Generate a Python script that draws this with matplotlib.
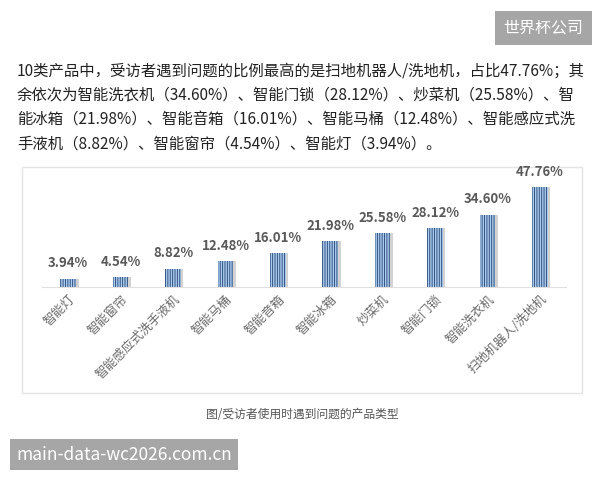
import matplotlib
matplotlib.use("Agg")
import matplotlib.pyplot as plt
from matplotlib.patches import Rectangle
import numpy as np

plt.rcParams['font.family'] = ['Noto Sans CJK SC', 'DejaVu Sans']
plt.rcParams['hatch.linewidth'] = 0.65

categories = ["智能灯", "智能窗帘", "智能感应式洗手液机", "智能马桶", "智能音箱",
              "智能冰箱", "炒菜机", "智能门锁", "智能洗衣机", "扫地机器人/洗地机"]
values = [3.94, 4.54, 8.82, 12.48, 16.01, 21.98, 25.58, 28.12, 34.60, 47.76]

para_lines = [
    "10类产品中，受访者遇到问题的比例最高的是扫地机器人/洗地机，占比47.76%；其",
    "余依次为智能洗衣机（34.60%）、智能门锁（28.12%）、炒菜机（25.58%）、智",
    "能冰箱（21.98%）、智能音箱（16.01%）、智能马桶（12.48%）、智能感应式洗",
    "手液机（8.82%）、智能窗帘（4.54%）、智能灯（3.94%）。",
]
caption = "图/受访者使用时遇到问题的产品类型"
badge = "世界杯公司"
watermark = "main-data-wc2026.com.cn"

W, H = 600, 480
fig = plt.figure(figsize=(6, 4.8), dpi=100)
fig.patch.set_facecolor("white")


def px(x, y):
    # pixel coords from top-left -> figure fraction
    return x / W, 1 - y / H


# top-right badge
fig.patches.append(Rectangle(px(495, 45), 97 / W, 34 / H, transform=fig.transFigure,
                             facecolor="#a6a6a6", edgecolor="none"))
fig.text(*px(543, 28), badge, color="white", fontsize=11.5, ha="center", va="center")

# paragraph
for i, line in enumerate(para_lines):
    fig.text(*px(17, 71 + i * 24.3), line, color="#222222", fontsize=11.1,
             ha="left", va="center")

# chart panel
fig.patches.append(Rectangle(px(22, 393), 560 / W, 226 / H, transform=fig.transFigure,
                             facecolor="white", edgecolor="#e4e4e4", linewidth=1,
                             zorder=-5))

# axes: baseline at y=287px, 47.76 -> 100 px
ymax = 50
ax_h = 100 / 47.76 * ymax
ax = fig.add_axes([42 / W, 1 - 287 / H, 524 / W, ax_h / H])
ax.set_zorder(5)
ax.set_facecolor("none")
x = np.arange(len(values))
ax.bar(x + 0.05, values, width=0.3, color="#d2d2d2", zorder=1)
ax.bar(x, values, width=0.3, facecolor="#a9cbee", edgecolor="#2c4a78",
       hatch="|||||||", linewidth=0, zorder=2)
ax.set_xlim(-0.5, len(values) - 0.5)
ax.set_ylim(0, ymax)
for s in ["top", "right", "left"]:
    ax.spines[s].set_visible(False)
ax.spines["bottom"].set_color("#e0e0e0")
ax.set_yticks([])
ax.set_xticks(x)
ax.set_xticklabels(categories, rotation=45, ha="right", rotation_mode="anchor",
                   fontsize=9, color="#6a6a6a")
ax.tick_params(axis="x", length=0, pad=4)
for xi, v in zip(x, values):
    ax.annotate(f"{v:.2f}%", (xi, v), xytext=(0, 6), textcoords="offset points",
                ha="center", va="bottom", fontsize=9.5, fontweight="bold",
                color="#595959", annotation_clip=False)

# caption
fig.text(*px(302, 414), caption, color="#555555", fontsize=8.5, ha="center", va="center")

# watermark
fig.patches.append(Rectangle(px(10, 470), 228 / W, 31 / H, transform=fig.transFigure,
                             facecolor="#a6a6a6", edgecolor="none"))
fig.text(*px(124, 455), watermark, color="white", fontsize=12.5, ha="center", va="center")

fig.savefig("out.png", dpi=100)
